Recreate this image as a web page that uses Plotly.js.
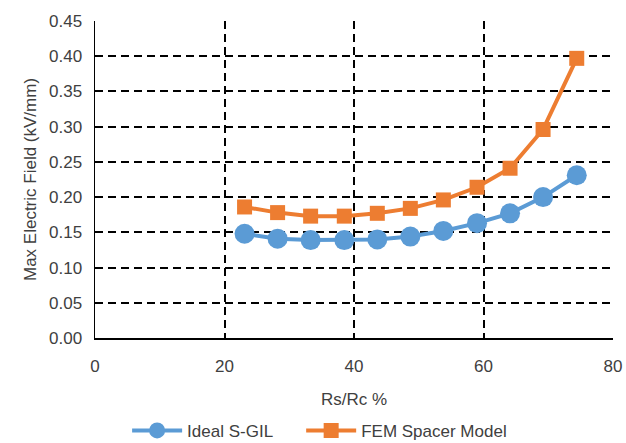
<!DOCTYPE html>
<html>
<head>
<meta charset="utf-8">
<script src="https://cdn.plot.ly/plotly-3.0.1.min.js"></script>
<style>html,body{margin:0;padding:0;background:#fff;}#chart{width:626px;height:443px;}</style>
</head>
<body>
<div id="chart"></div>
<script>
var ratio = [23.1, 28.2, 33.3, 38.5, 43.6, 48.7, 53.8, 59.0, 64.1, 69.2, 74.4];
var idealSGIL = [0.148, 0.141, 0.139, 0.139, 0.140, 0.144, 0.152, 0.163, 0.177, 0.200, 0.231];
var femSpacer = [0.186, 0.178, 0.173, 0.173, 0.177, 0.184, 0.196, 0.214, 0.241, 0.296, 0.397];
var xTicks = [0, 20, 40, 60, 80];
var yTicks = [0, 0.05, 0.10, 0.15, 0.20, 0.25, 0.30, 0.35, 0.40, 0.45];
var yTickText = yTicks.map(function(v){return v.toFixed(2);});

var fontFam = 'Liberation Sans, Arial, sans-serif';
var txtColor = '#404040';
var traces = [
  {x: ratio, y: idealSGIL, name: 'Ideal S-GIL', type: 'scatter', mode: 'lines+markers', legend: 'legend',
   line: {color: '#5B9BD5', width: 4}, marker: {symbol: 'circle', size: 20, color: '#5B9BD5'}},
  {x: ratio, y: femSpacer, name: 'FEM Spacer Model', type: 'scatter', mode: 'lines+markers', legend: 'legend2',
   line: {color: '#ED7D31', width: 4}, marker: {symbol: 'square', size: 15, color: '#ED7D31'}}
];
var legendBase = {orientation: 'h', xanchor: 'left', y: -0.293, yanchor: 'middle',
                  font: {size: 17, color: txtColor}, itemwidth: 50, bgcolor: 'rgba(0,0,0,0)'};
var layout = {
  width: 626, height: 443,
  margin: {l: 95, r: 13, t: 21, b: 105, autoexpand: false},
  paper_bgcolor: '#fff', plot_bgcolor: '#fff',
  font: {family: fontFam, size: 17, color: txtColor},
  showlegend: true,
  legend: Object.assign({}, legendBase, {x: 0.062}),
  legend2: Object.assign({}, legendBase, {x: 0.398}),
  xaxis: {range: [0, 80], tickvals: xTicks, ticktext: xTicks.map(String), showgrid: true,
          gridcolor: '#000', griddash: '8px,5px', gridwidth: 2, zeroline: false,
          showline: true, linecolor: '#000', linewidth: 1.5, ticks: '', ticklabelstandoff: 12,
          tickfont: {size: 17, color: txtColor},
          title: {text: 'Rs/Rc %', font: {size: 17, color: txtColor}, standoff: 18}},
  yaxis: {range: [0, 0.45], tickvals: yTicks, ticktext: yTickText, showgrid: true,
          gridcolor: '#000', griddash: '8px,5px', gridwidth: 2, zeroline: false,
          showline: true, linecolor: '#000', linewidth: 1.5, ticks: '', ticklabelstandoff: 8,
          tickfont: {size: 17, color: txtColor},
          title: {text: 'Max Electric Field (kV/mm)', font: {size: 17, color: txtColor}, standoff: 8}}
};
Plotly.newPlot('chart', traces, layout, {displayModeBar: false, staticPlot: true});
</script>
</body>
</html>
